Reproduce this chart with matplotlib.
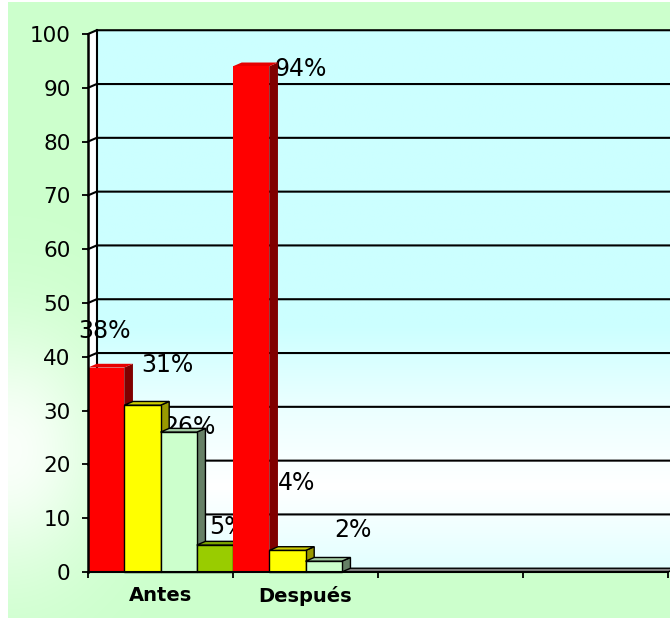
import numpy as np
import matplotlib
matplotlib.use("Agg")
import matplotlib.pyplot as plt
from matplotlib.patches import Polygon, Rectangle

plt.rcParams["font.family"] = ["DejaVu Sans"]

# ---- data -------------------------------------------------------------
categories = ["Antes", "Después", "", ""]
serie_rojo = [38, 94]
serie_amarillo = [31, 4]
serie_verde_claro = [26, 2]
serie_verde = [5, 0]
y_ticks = list(range(0, 101, 10))

series = [serie_rojo, serie_amarillo, serie_verde_claro, serie_verde]

# label placement (left edge offset from bar's left side, vertical offset from value)
label_offsets = [
    [(-0.069, 7.2), (0.283, 0.05)],
    [(0.120, 8.0), (0.060, 13.1)],
    [(0.017, 1.5), (0.197, 6.2)],
    [(0.084, 3.9), (0.0, 0.0)],
]

# face colours: front, top, side, edge
styles = [
    ("#FF0000", "#E60000", "#800000", "none"),
    ("#FFFF00", "#CCCC00", "#999900", "black"),
    ("#CCFFCC", "#A3CCA3", "#668066", "black"),
    ("#99CC00", "#7AA300", "#4D6600", "black"),
]

# ---- figure & background ----------------------------------------------
W, H = 670, 618
fig = plt.figure(figsize=(W / 100, H / 100), dpi=100)

bg = fig.add_axes([0, 0, 1, 1])
bg.set_axis_off()
yy, xx = np.mgrid[0:H, 0:W]
glow = np.exp(-(((xx - 8) / 95.0) ** 2 + ((yy - 450) / 120.0) ** 2))
green = np.array([0.80, 1.0, 0.80])
img = green + (1 - green) * glow[..., None] * 0.9
img[:, :8] = 1.0
img[:2, :] = 1.0
bg.imshow(img, extent=[0, 1, 0, 1], aspect="auto", origin="upper",
          interpolation="bilinear")
bg.set_xlim(0, 1)
bg.set_ylim(0, 1)

# ---- plot area --------------------------------------------------------
L, R, B, T = 88, 668, 572, 34
ax = fig.add_axes([L / W, 1 - B / H, (R - L) / W, (B - T) / H])
ax.patch.set_visible(False)

n_cat = len(categories)
n_ser = len(series)
BW = 1.0 / n_ser
DX, DY = 0.06, 0.7          # depth of the 3-D effect in data units
ymax = y_ticks[-1]

# back wall with vertical gradient
vals = np.linspace(0, ymax, 300)
white = np.interp(vals, [0, 15, 30, 45, ymax], [0.45, 1.0, 0.6, 0.0, 0.0])
cyan = np.array([0.80, 1.0, 1.0])
wall = cyan + (1 - cyan) * white[:, None]
wall = np.repeat(wall[:, None, :], 4, axis=1)
im = ax.imshow(wall, extent=[DX, n_cat + DX, DY, ymax + DY], aspect="auto",
               origin="lower", zorder=0, interpolation="bilinear")
im.set_clip_on(False)

# side wall
ax.add_patch(Polygon([(0, 0), (DX, DY), (DX, ymax + DY), (0, ymax)],
                     closed=True, fc="white", ec="none", zorder=0.5,
                     clip_on=False))
# floor
ax.add_patch(Polygon([(0, 0), (n_cat, 0), (n_cat + DX, DY), (DX, DY)],
                     closed=True, fc="#808080", ec="black", lw=1.0, zorder=1,
                     clip_on=False))

# gridlines on side and back walls
for v in y_ticks[1:]:
    ax.plot([0, DX, n_cat + DX], [v, v + DY, v + DY], color="black", lw=1.5,
            zorder=1.5, clip_on=False, solid_joinstyle="miter")
ax.plot([DX, DX], [DY, ymax + DY], color="black", lw=1.5, zorder=1.5,
        clip_on=False)

# bars
k = 0
for ci in range(n_cat):
    for si in range(n_ser):
        vals_s = series[si]
        if ci >= len(vals_s):
            continue
        v = vals_s[ci]
        if v <= 0:
            continue
        front, top, side, edge = styles[si]
        lw = 0 if edge == "none" else 1.0
        z = 4 + k * 0.01
        x0 = ci + si * BW
        x1 = x0 + BW
        ax.add_patch(Polygon([(x1, 0), (x1 + DX, DY), (x1 + DX, v + DY), (x1, v)],
                             closed=True, fc=side, ec=edge, lw=lw, zorder=z,
                             clip_on=False))
        ax.add_patch(Polygon([(x0, v), (x0 + DX, v + DY), (x1 + DX, v + DY), (x1, v)],
                             closed=True, fc=top, ec=edge, lw=lw, zorder=z,
                             clip_on=False))
        ax.add_patch(Rectangle((x0, 0), BW, v, fc=front, ec=edge, lw=lw,
                               zorder=z, clip_on=False))
        ox, oy = label_offsets[si][ci]
        ax.text(x0 + ox, v + oy, f"{v}%", ha="left", va="center_baseline",
                fontsize=17, color="black", zorder=3)
        k += 1

ax.set_xlim(0, n_cat)
ax.set_ylim(0, ymax)

# axes
for s in ("top", "right"):
    ax.spines[s].set_visible(False)
ax.spines["left"].set_linewidth(1.8)
ax.spines["bottom"].set_linewidth(1.5)
ax.spines["left"].set_zorder(10)
ax.spines["bottom"].set_zorder(10)

ax.set_yticks(y_ticks)
ax.tick_params(axis="y", direction="out", length=4.5, width=1.3, pad=8,
               labelsize=15.5, colors="black")
ax.set_xticks(range(n_cat + 1))
ax.set_xticklabels([])
ax.set_xticks([c + 0.5 for c in range(n_cat)], minor=True)
ax.set_xticklabels(categories, minor=True, fontsize=14, fontweight="bold")
ax.tick_params(axis="x", which="major", direction="out", length=4, width=1.3)
ax.tick_params(axis="x", which="minor", length=0, pad=10)

fig.savefig("out.png", dpi=100)
